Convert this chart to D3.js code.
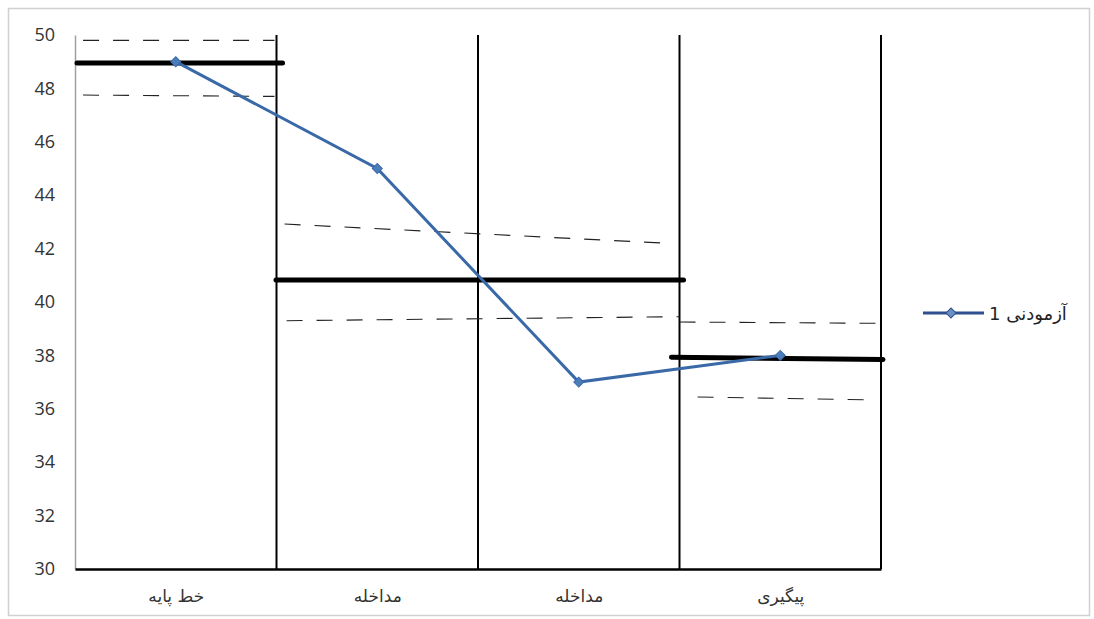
<!DOCTYPE html>
<html>
<head>
<meta charset="utf-8">
<script src="https://cdn.jsdelivr.net/npm/d3@7"></script>
<style>
html,body{margin:0;padding:0;background:#fff;}
svg{display:block;}
</style>
</head>
<body>
<svg id="chart" width="1094" height="619"></svg>
<script>
// ---- data ----
const categories = ["خط پایه", "مداخله", "مداخله", "پیگیری"];
const values = [49, 45, 37, 38];
const seriesName = "آزمودنی 1";
const yTicks = [30, 32, 34, 36, 38, 40, 42, 44, 46, 48, 50];
// phase boundaries in category units
const phaseBounds = [1, 2, 3, 4];
// mean (level) lines: [startCat, endCat, startValue, endValue]
const meanStart = [0.01, 0.9975, 2.96];
const meanEnd = [1.03, 3.02, 4.01];
const meanFrom = [48.95, 40.82, 37.93];
const meanTo = [48.95, 40.82, 37.85];
// dashed (±SD) lines
const sdStart = [0.04, 0.04, 1.04, 1.05, 3.0, 3.09];
const sdEnd = [0.99, 0.99, 2.94, 3.0, 4.02, 3.98];
const sdFrom = [49.8, 47.75, 42.92, 39.3, 39.25, 36.44];
const sdTo = [49.8, 47.7, 42.2, 39.45, 39.2, 36.33];

// ---- layout ----
const svg = d3.select("#chart");
const L = 75, R = 881, T = 35, B = 569;

const x = d3.scaleLinear().domain([0, categories.length]).range([L, R]);
const y = d3.scaleLinear().domain([30, 50]).range([B, T]);

// outer frame
svg.append("rect").attr("x", 8.5).attr("y", 8.5).attr("width", 1081).attr("height", 607)
  .attr("fill", "#fff").attr("stroke", "#d0d0d0").attr("stroke-width", 1.5);

// y axis
const yAxis = d3.axisLeft(y).tickValues(yTicks).tickSize(0).tickPadding(20);
const gy = svg.append("g").attr("transform", `translate(${L},0)`).call(yAxis);
gy.select(".domain").attr("stroke", "#a0a0a0").attr("stroke-width", 1.5);
gy.selectAll("text").attr("font-family", "Open Sans, Liberation Sans, sans-serif")
  .attr("font-size", 18).attr("fill", "#333");

// x axis
const xAxis = d3.axisBottom(x)
  .tickValues(categories.map((c, i) => i + 0.5))
  .tickFormat((d, i) => categories[i])
  .tickSize(0).tickPadding(21);
const gx = svg.append("g").attr("transform", `translate(0,${B})`).call(xAxis);
gx.select(".domain").attr("stroke", "#000").attr("stroke-width", 2.5);
gx.selectAll("text").attr("font-family", "DejaVu Sans, sans-serif")
  .attr("font-size", 17).attr("fill", "#333");

// phase boundary lines
svg.append("g").selectAll("line").data(phaseBounds).join("line")
  .attr("x1", d => x(d)).attr("x2", d => x(d))
  .attr("y1", y(50)).attr("y2", y(30))
  .attr("stroke", "#000").attr("stroke-width", 2);

// dashed SD lines
svg.append("g").selectAll("line").data(sdStart).join("line")
  .attr("x1", (d, i) => x(sdStart[i])).attr("x2", (d, i) => x(sdEnd[i]))
  .attr("y1", (d, i) => y(sdFrom[i])).attr("y2", (d, i) => y(sdTo[i]))
  .attr("stroke", "#222").attr("stroke-width", 1.1)
  .attr("stroke-dasharray", "16,14");

// mean lines
svg.append("g").selectAll("line").data(meanStart).join("line")
  .attr("x1", (d, i) => x(meanStart[i])).attr("x2", (d, i) => x(meanEnd[i]))
  .attr("y1", (d, i) => y(meanFrom[i])).attr("y2", (d, i) => y(meanTo[i]))
  .attr("stroke", "#000").attr("stroke-width", 5).attr("stroke-linecap", "round");

// series line
const blue = "#3a69a8";
const line = d3.line().x((d, i) => x(i + 0.5)).y(d => y(d));
svg.append("path").datum(values).attr("d", line)
  .attr("fill", "none").attr("stroke", blue).attr("stroke-width", 3);

const diamond = d3.symbol().type(d3.symbolSquare).size(50);
svg.append("g").selectAll("path").data(values).join("path")
  .attr("d", diamond)
  .attr("transform", (d, i) => `translate(${x(i + 0.5)},${y(d)}) rotate(45)`)
  .attr("fill", "#4a7ebb").attr("stroke", blue).attr("stroke-width", 1);

// legend
const lg = svg.append("g");
lg.append("line").attr("x1", 923).attr("x2", 984).attr("y1", 313).attr("y2", 313)
  .attr("stroke", "#2f4f8f").attr("stroke-width", 3);
lg.append("path").attr("d", diamond).attr("transform", "translate(951,313) rotate(45)")
  .attr("fill", "#6a8fc4").attr("stroke", "#2f4f8f").attr("stroke-width", 1);
lg.append("text").attr("x", 989).attr("y", 320).text(seriesName)
  .attr("font-family", "DejaVu Sans, sans-serif").attr("font-size", 18).attr("fill", "#222");
</script>
</body>
</html>
